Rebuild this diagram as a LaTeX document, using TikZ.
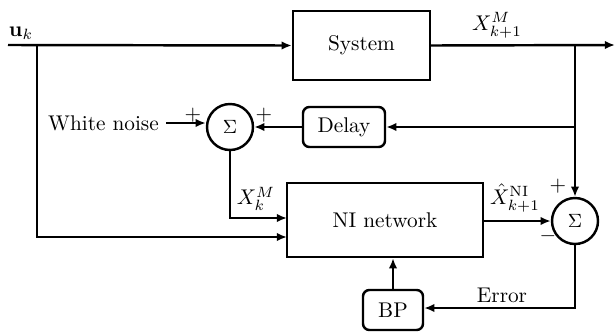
\documentclass[tikz,border=0pt]{standalone}
\usetikzlibrary{arrows.meta,calc}
\newcommand\pu{0.47}
\begin{document}
\begin{tikzpicture}[x=\pu pt,y=-\pu pt,
  line width=1.15pt,
  >={Latex[length=4.8pt,width=4pt]},
  block/.style={draw,rectangle,inner sep=0pt},
  rblock/.style={block,rounded corners=3pt},
  sumnode/.style={draw,circle,inner sep=0pt,minimum size=46*\pu pt,font=\small},
  lbl/.style={inner sep=0pt}]
\useasboundingbox (0,0) rectangle (615,331);

% blocks
\node[block,minimum width=137*\pu pt,minimum height=69*\pu pt] (sys) at (361.5,45.5) {System};
\node[rblock,minimum width=82*\pu pt,minimum height=40*\pu pt] (delay) at (344,127) {Delay};
\node[sumnode] (s1) at (230,127) {$\Sigma$};
\node[block,minimum width=196*\pu pt,minimum height=74*\pu pt] (ni) at (385,220) {NI network};
\node[sumnode] (s2) at (575,221) {$\Sigma$};
\node[rblock,minimum width=60*\pu pt,minimum height=40*\pu pt] (bp) at (393,310) {BP};
\node[lbl,anchor=east] (wn) at (160,123) {White noise};

% junctions and free ends
\coordinate (uin) at (8,45);
\coordinate (br1) at (37,45);
\coordinate (out) at (615,45);
\coordinate (br2) at (575,45);
\coordinate (niup) at (287,218);
\coordinate (nilow) at (287,237);
\coordinate (errc) at (575,308);

% connectors
\draw[->] (uin) -- (sys.west);
\draw[->] (sys.east) -- (out);
\draw[->] (br1) |- (nilow);
\draw[->] (br2) -- (s2.north);
\draw[->] (s2.north |- delay.east) -- (delay.east);
\draw[->] (delay.west) -- (s1.east);
\draw[->] ($(wn.east)+(6,0)$) -- (s1.west |- wn.east);
\draw[->] (s1.south) |- (niup);
\draw[->] (ni.east |- s2.west) -- (s2.west);
\draw[->] (s2.south) |- (bp.east |- errc);
\draw[->] (bp.north) -- (bp.north |- ni.south);

% labels
\node[lbl] (lu) at (21,33) {$\mathbf{u}_k$};
\node[lbl] (lx1) at (497,25) {$X^M_{k+1}$};
\node[lbl] (lxk) at (256,199) {$X^M_k$};
\node[lbl] (lxh) at (515,198) {$\hat{X}^{\mathrm{NI}}_{k+1}$};
\node[lbl] (lerr) at (502,295) {Error};
\node[lbl] (p1) at (193,115) {$+$};
\node[lbl] (p2) at (264,115) {$+$};
\node[lbl] (p3) at (558,186) {$+$};
\node[lbl] (m1) at (548,236) {$-$};
\end{tikzpicture}
\end{document}
